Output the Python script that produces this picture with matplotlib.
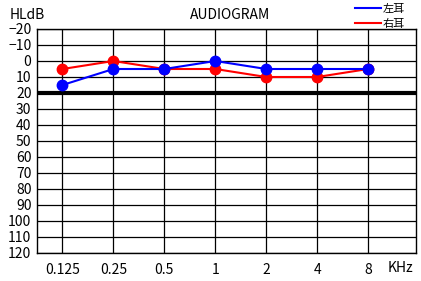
import matplotlib
matplotlib.use("Agg")
import matplotlib.pyplot as plt
from matplotlib.lines import Line2D

plt.rcParams['font.family'] = ['Noto Sans CJK JP', 'DejaVu Sans']

freq_labels = ["0.125", "0.25", "0.5", "1", "2", "4", "8"]
left_ear = [15, 5, 5, 0, 5, 5, 5]
right_ear = [5, 0, 5, 5, 10, 10, 5]
y_ticks = list(range(-20, 121, 10))
title = "AUDIOGRAM"
y_unit = "HLdB"
x_unit = "KHz"
series_names = ["左耳", "右耳"]

W, H = 421, 281
fig = plt.figure(figsize=(W / 100, H / 100), dpi=100)
ax = fig.add_axes([37 / W, (H - 253) / H, 379 / W, 224 / H])

x = list(range(len(freq_labels)))
ax.set_xlim(-0.5, 6.94)
ax.set_ylim(120, -20)

for xi in x:
    ax.axvline(xi, color='black', lw=0.9, zorder=1)
for yv in y_ticks:
    ax.axhline(yv, color='black', lw=0.9, zorder=1)
ax.axhline(20, color='black', lw=3.0, zorder=2)

ax.plot(x, right_ear, color='#ff0000', lw=1.5, marker='o', ms=7.5, zorder=3)
ax.plot(x, left_ear, color='#0000ff', lw=1.5, marker='o', ms=7.5, zorder=4)

ax.set_xticks(x)
ax.set_xticklabels(freq_labels)
ax.set_yticks(y_ticks)
ax.set_yticklabels([str(v).replace('-', '\u2212') for v in y_ticks])
ax.tick_params(length=0, labelsize=10, pad=4)
ax.tick_params(axis='x', pad=7)
for s in ax.spines.values():
    s.set_linewidth(1.0)

fig.text(400 / W, 1 - 268 / H, x_unit, ha='center', va='center', fontsize=10)
fig.text(10 / W, 1 - 15 / H, y_unit, ha='left', va='center', fontsize=10)
fig.text(230 / W, 1 - 15 / H, title, ha='center', va='center', fontsize=10)

handles = [Line2D([0], [0], color='#0000ff', lw=1.5),
           Line2D([0], [0], color='#ff0000', lw=1.5)]
fig.legend(handles, series_names, loc='upper left', bbox_to_anchor=(355 / W, 1 - 4 / H),
           frameon=False, fontsize=8, handlelength=2.3, handletextpad=0.2,
           labelspacing=0.4, borderpad=0.0, borderaxespad=0.0)

fig.savefig("out.png", dpi=100)
